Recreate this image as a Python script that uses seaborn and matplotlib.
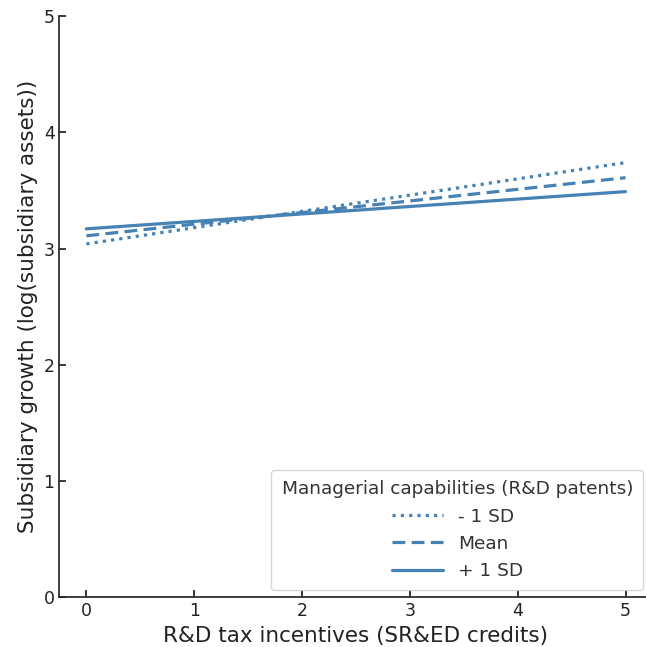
import numpy as np
import pandas as pd
import matplotlib
matplotlib.use("Agg")
import matplotlib.pyplot as plt
import seaborn as sns

# Simple-slope predictions at the ends of the incentive range
incentives = [0, 5]
groups = ["- 1 SD", "Mean", "+ 1 SD"]
growth_low = [3.04, 3.74]
growth_mean = [3.11, 3.61]
growth_high = [3.17, 3.49]

df = pd.DataFrame({
    "x": incentives * 3,
    "y": growth_low + growth_mean + growth_high,
    "group": [g for g in groups for _ in incentives],
})

sns.set_theme(style="ticks")
plt.rcParams["font.family"] = ["DejaVu Sans"]

fig = plt.figure(figsize=(6.46, 6.47), dpi=100)
ax = fig.add_axes([0.092, 0.077, 0.918, 0.898])

sns.lineplot(
    data=df, x="x", y="y", style="group", style_order=groups,
    dashes={"- 1 SD": (1, 1.6), "Mean": (4, 2), "+ 1 SD": ""},
    color="steelblue", linewidth=2.3, ax=ax,
)

ax.set_xlim(-0.25, 5.25)
ax.set_ylim(0, 5)
ax.set_xticks([0, 1, 2, 3, 4, 5])
ax.set_yticks([0, 1, 2, 3, 4, 5])
ax.tick_params(direction="in", labelsize=12.5, colors="#222222", length=5)
ax.set_xlabel("R&D tax incentives (SR&ED credits)", fontsize=15.5, color="#222222")
ax.set_ylabel("Subsidiary growth (log(subsidiary assets))", fontsize=15.5, color="#222222")
sns.despine(ax=ax)

leg = ax.legend(title="Managerial capabilities (R&D patents)", loc="lower right",
                fontsize=13.3, title_fontsize=13.3, frameon=True,
                bbox_to_anchor=(1.0, -0.004), handlelength=2.8, borderpad=0.55)
leg.get_title().set_color("#333333")
for t in leg.get_texts():
    t.set_color("#333333")

fig.savefig("out.png", dpi=100)
